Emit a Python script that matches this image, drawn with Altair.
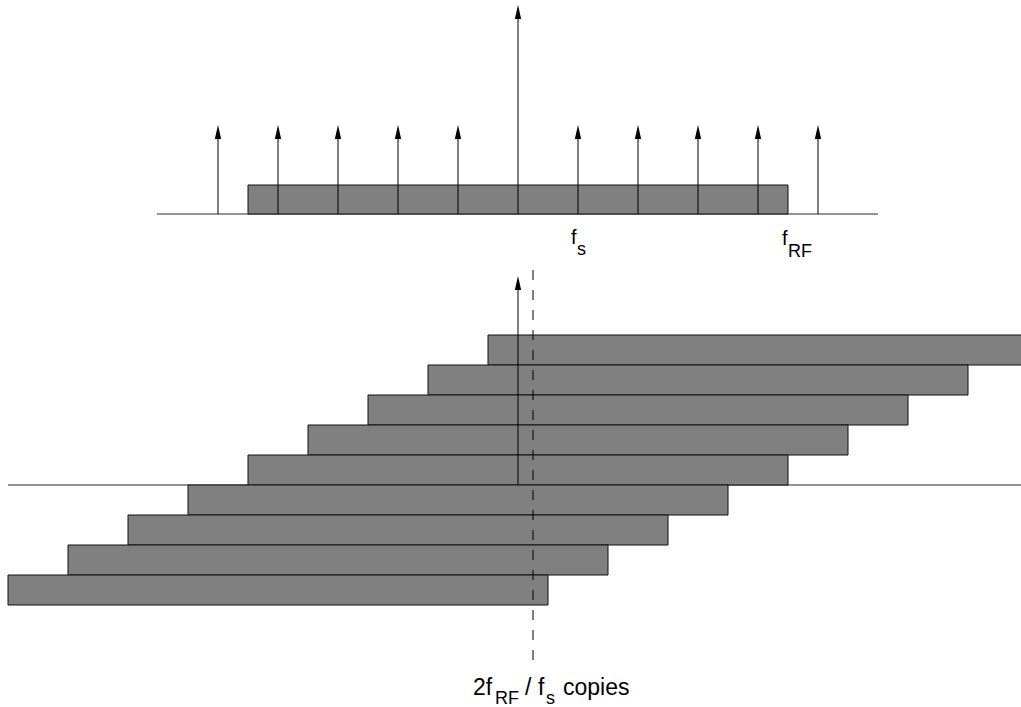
import altair as alt
import pandas as pd

W, H = 1021, 707

# ---- top panel: sampling comb over the RF band ----
top_arrow_x = [218, 278, 338, 398, 458, 518, 578, 638, 698, 758, 818]
top_arrow_tip = [125, 125, 125, 125, 125, 5, 125, 125, 125, 125, 125]  # the tall one is the DC impulse
top_base_y = 214
top_band = {"x": 248, "x2": 788, "y": 185, "y2": 214}
top_axis = {"x": 157, "x2": 878, "y": 214}

# ---- bottom panel: shifted copies of the band ----
copy_left = [488, 428, 368, 308, 248, 188, 128, 68, 8]
copy_top = [335, 365, 395, 425, 455, 485, 515, 545, 575]
copy_width = 540
copy_height = 30
bottom_axis = {"x": 8, "x2": 1021, "y": 485}
bottom_arrow = {"x": 518, "tip": 276, "base": 485}
dash = {"x": 533, "y": 270, "y2": 667}

# ---- labels (pieces: text, x, baseline y, font size) ----
label_text = ["f", "s", "f", "RF", "2f", "RF", "/", "f", "s", "copies"]
label_x = [571, 577, 782, 788, 473, 495, 525, 538, 546, 563]
label_y = [244, 255, 245, 257, 695, 704, 695, 695, 704, 695]
label_size = [20, 18, 20, 18, 23, 18, 23, 23, 18, 23]

FONT = "Liberation Sans"
xs = alt.Scale(domain=[0, W], range=[0, W], nice=False, zero=False)
ys = alt.Scale(domain=[0, H], range=[0, H], nice=False, zero=False)


def X(f="x"):
    return alt.X(f"{f}:Q", scale=xs, axis=None)


def Y(f="y"):
    return alt.Y(f"{f}:Q", scale=ys, axis=None)


# rectangles
rects = [dict(top_band)]
for l, t in zip(copy_left, copy_top):
    rects.append({"x": l, "x2": l + copy_width, "y": t, "y2": t + copy_height})
rect_df = pd.DataFrame(rects)

# horizontal axis lines
hline_df = pd.DataFrame([top_axis, bottom_axis])

# arrows
arrows = [{"x": x, "tip": t, "base": top_base_y} for x, t in zip(top_arrow_x, top_arrow_tip)]
arrows.append(dict(bottom_arrow))
arrow_df = pd.DataFrame(arrows)
arrow_df["shaft_top"] = arrow_df["tip"] + 7
arrow_df["head_c"] = arrow_df["tip"] + 7

label_df = pd.DataFrame({"text": label_text, "x": label_x, "y": label_y, "size": label_size})
dash_df = pd.DataFrame([dash])

hlines = alt.Chart(hline_df).mark_rule(color="#707070", strokeWidth=1.6).encode(
    x=X(), x2="x2:Q", y=Y()
)

bands = alt.Chart(rect_df).mark_rect(
    fill="#808080", stroke="#111111", strokeWidth=1, clip=True
).encode(x=X(), x2="x2:Q", y=Y(), y2="y2:Q")

shafts = alt.Chart(arrow_df).mark_rule(color="black", strokeWidth=1).encode(
    x=X(), y=Y("shaft_top"), y2="base:Q"
)

heads = alt.Chart(arrow_df).mark_point(
    shape="M0,-1L0.45,1L-0.45,1Z", filled=True, color="black", opacity=1, size=196, strokeWidth=0
).encode(x=X(), y=Y("head_c"))

dashed = alt.Chart(dash_df).mark_rule(color="black", strokeWidth=1, strokeDash=[10, 10]).encode(
    x=X(), y=Y(), y2="y2:Q"
)

text_layers = []
for fs in sorted(set(label_size)):
    text_layers.append(
        alt.Chart(label_df[label_df["size"] == fs]).mark_text(
            align="left", baseline="alphabetic", font=FONT, color="black", fontSize=fs
        ).encode(x=X(), y=Y(), text="text:N")
    )

chart = alt.layer(
    hlines, bands, shafts, heads, dashed, *text_layers
).properties(
    width=W, height=H, padding=0, autosize=alt.AutoSizeParams(type="none"),
    background="white",
).configure_view(stroke=None)

chart.save("out.html", embed_options={"renderer": "svg", "actions": False})
